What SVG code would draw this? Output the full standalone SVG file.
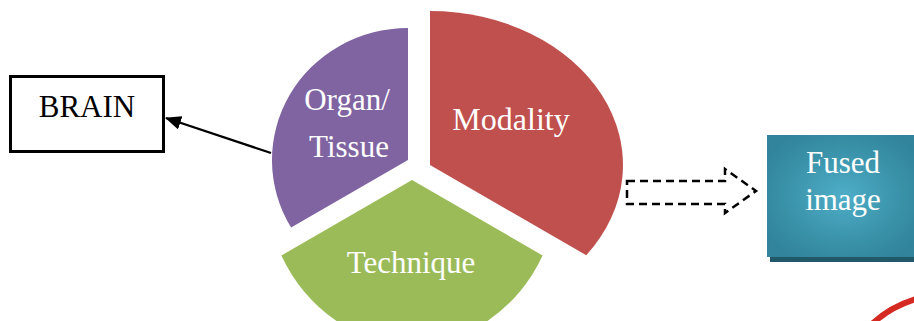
<svg xmlns="http://www.w3.org/2000/svg" width="914" height="321" viewBox="0 0 914 321">
<style>
.lbl{font-family:"Liberation Serif","Times New Roman",serif;font-size:31px;text-anchor:middle;fill:#fff}
.dark{fill:#000}
</style>
<defs>
<marker id="ah" markerWidth="16" markerHeight="14" refX="15" refY="7" orient="auto" markerUnits="userSpaceOnUse" viewBox="0 0 16 14">
<path d="M0,0 L16,7 L0,14 Z" fill="#000"/>
</marker>
<radialGradient id="teal" cx="0.5" cy="0.5" r="0.6">
<stop offset="0" stop-color="#4FAEC8"/>
<stop offset="0.6" stop-color="#3A93AA"/>
<stop offset="1" stop-color="#31849B"/>
</radialGradient>
</defs>
<rect width="914" height="321" fill="#fff"/>
<g id="modality">
<path d="M430,165 L430,11 A193,154 0 0,1 586.3,255.3 Z" fill="#C0504D"/>
<text class="lbl" x="511" y="130" style="font-size:32px">Modality</text>
</g>
<g id="organ">
<path d="M408,160 L291.1,227.5 A136,132 0 0,1 408,28 Z" fill="#8064A2"/>
<text class="lbl" x="347" y="110">Organ/</text>
<text class="lbl" x="349" y="157">Tissue</text>
</g>
<g id="technique">
<path d="M412,180 L542.6,255.4 A147,164 0 0,1 281.4,255.4 Z" fill="#9BBB59"/>
<text class="lbl" x="411" y="273">Technique</text>
</g>
<g id="brain">
<rect x="10.5" y="76.5" width="153" height="75" fill="#fff" stroke="#000" stroke-width="3"/>
<text class="lbl dark" x="87" y="117">BRAIN</text>
</g>
<g id="fused">
<rect x="770" y="140" width="150" height="122" fill="#215968"/>
<rect x="767" y="135" width="152" height="122" fill="url(#teal)"/>
<text class="lbl" x="843" y="173">Fused</text>
<text class="lbl" x="843" y="210">image</text>
</g>
<g id="connectors">
<line x1="271" y1="153" x2="166" y2="118" stroke="#000" stroke-width="2.2" marker-end="url(#ah)"/>
<path d="M627,181 L725,181 L725,169 L756,191 L725,213 L725,204 L627,204 Z" fill="none" stroke="#000" stroke-width="2.5" stroke-dasharray="8,5"/>
</g>
<path id="redarc" d="M872,324 Q890,307 916,299" fill="none" stroke="#D42A22" stroke-width="6"/>
</svg>
